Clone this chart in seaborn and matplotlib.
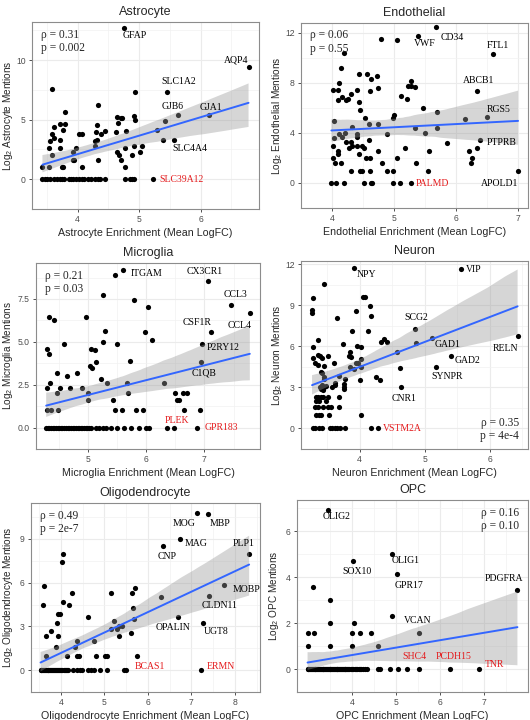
import numpy as np
import matplotlib
matplotlib.use('Agg')
import matplotlib.pyplot as plt
from matplotlib.collections import PolyCollection
from matplotlib.ticker import FormatStrFormatter
import seaborn as sns

# ---------------- data ----------------
# Astrocyte
astro_x = [3.59, 4.34, 3.80, 3.72, 3.80, 3.62, 3.76, 3.59, 3.61, 3.55, 3.71, 3.54, 3.71, 3.59,
           3.43, 3.53, 3.74, 3.77, 3.92, 3.97, 3.92, 3.95, 4.03, 4.07, 4.07, 4.32, 4.30, 4.31,
           4.29, 4.29, 4.33, 4.38, 4.44, 4.64, 4.70, 4.72, 4.66, 4.63, 4.78, 4.92, 4.94, 4.64,
           4.67, 4.71, 4.77, 4.77, 4.92, 4.88, 5.02, 5.04, 4.93, 5.43, 5.30, 5.39,
           3.43, 3.47, 3.51, 3.55, 3.61, 3.66, 3.71, 3.75, 3.78, 3.86, 3.90, 3.93, 3.97, 4.02,
           4.07, 4.11, 4.17, 4.22, 4.29, 4.33, 4.37, 4.45, 4.77, 4.85, 4.89, 4.92]
astro_y = [7.54, 6.22, 5.65, 4.60, 4.60, 4.39, 4.17, 3.81, 3.46, 3.17, 3.32, 2.58, 2.58, 2.00,
           1.00, 1.00, 1.00, 1.00, 2.32, 2.58, 1.58, 1.58, 3.81, 3.81, 1.00, 4.52, 4.00, 3.32,
           3.17, 2.81, 1.58, 3.81, 4.09, 5.21, 5.17, 5.13, 4.75, 4.00, 4.09, 5.29, 4.95, 2.32,
           2.00, 1.58, 2.58, 1.00, 2.81, 2.00, 2.32, 2.81, 7.34, 4.86, 4.17, 3.32,
           0, 0, 0, 0, 0, 0, 0, 0, 0, 0, 0, 0, 0, 0,
           0, 0, 0, 0, 0, 0, 0, 0, 0, 0, 0, 0]
astro_genes = ['GFAP', 'AQP4', 'SLC1A2', 'GJB6', 'GJA1', 'SLC4A4', 'SLC39A12']
astro_gene_x = [4.75, 6.78, 5.46, 5.64, 6.13, 5.57, 5.22]
astro_gene_y = [12.70, 9.38, 7.34, 5.42, 5.42, 3.32, 0]
astro_red = ['SLC39A12']

# Endothelial
endo_x = [4.79, 5.05, 4.20, 4.14, 4.11, 4.01, 4.10, 4.16, 4.09, 4.22, 4.26, 4.31, 4.40, 4.43,
          4.56, 4.63, 4.72, 4.74, 4.61, 4.44, 4.45, 4.53, 4.59, 4.74, 4.04, 4.03, 4.01, 4.10,
          4.10, 4.01, 4.05, 4.15, 4.16, 4.12, 4.21, 4.22, 4.32, 4.31, 4.33, 4.27, 4.31, 4.40,
          4.40, 4.40, 4.44, 4.48, 4.45, 4.48, 4.52, 4.55, 4.59, 4.61, 4.62, 4.74, 4.80, 4.89,
          4.88, 4.99, 5.00, 4.99, 5.05, 5.12, 5.21, 5.23, 5.27, 5.27, 5.33, 5.18, 5.33, 5.36,
          5.47, 5.50, 5.54, 5.56, 5.70, 5.70, 5.86, 6.14, 6.33, 6.21, 6.26, 6.24,
          3.99, 4.06, 4.20, 4.52, 4.63, 4.65, 4.99, 5.09]
endo_y = [11.50, 11.45, 10.40, 9.23, 8.00, 7.42, 7.47, 6.92, 6.63, 6.67, 6.72, 7.16, 7.42, 8.75,
          8.75, 8.36, 8.55, 7.60, 7.35, 6.46, 5.83, 5.18, 4.75, 4.75, 4.94, 3.58, 3.00, 2.58,
          2.32, 2.00, 1.58, 1.58, 3.70, 3.91, 4.00, 3.32, 4.52, 3.32, 3.00, 2.81, 1.00, 3.70,
          3.91, 3.00, 2.32, 3.00, 1.00, 1.00, 2.81, 2.00, 3.46, 2.00, 1.00, 2.58, 1.58, 3.91,
          1.00, 5.21, 5.43, 1.00, 2.00, 6.94, 6.75, 7.78, 7.78, 8.19, 7.71, 2.81, 4.39, 1.58,
          5.98, 3.97, 1.00, 2.58, 5.66, 4.39, 3.17, 5.11, 2.81, 2.58, 2.00, 1.58,
          0, 0, 0, 0, 0, 0, 0, 0]
endo_genes = ['CD34', 'VWF', 'FTL1', 'ABCB1', 'RGS5', 'PTPRB', 'APOLD1', 'PALMD']
endo_gene_x = [5.68, 5.38, 6.59, 6.33, 6.50, 6.38, 7.00, 5.27]
endo_gene_y = [12.46, 11.76, 10.30, 7.40, 5.25, 3.46, 1.00, 0]
endo_red = ['PALMD']

# Microglia
micro_x = [5.46, 5.25, 5.79, 6.03, 4.32, 4.42, 4.96, 5.98, 5.29, 6.10, 5.26, 5.49, 4.59, 4.30,
           4.32, 5.05, 5.12, 5.13, 5.03, 5.06, 5.72, 4.46, 4.81, 4.63, 4.35, 5.23, 5.32, 5.67,
           6.30, 4.30, 4.52, 4.69, 4.90, 4.47, 5.00, 5.00, 5.69, 5.43, 6.50, 6.52, 6.56, 6.63,
           6.70, 4.30, 4.37, 4.49, 5.46, 5.59, 5.83, 5.95, 6.65, 6.93,
           4.28, 4.31, 4.33, 4.36, 4.39, 4.42, 4.45, 4.48, 4.50, 4.53, 4.56, 4.59, 4.62, 4.65,
           4.68, 4.71, 4.74, 4.76, 4.79, 4.82, 4.85, 4.88, 4.90, 4.93, 4.96, 4.99, 5.02, 5.05,
           5.13, 5.19, 5.25, 5.30, 5.39, 5.50, 5.62, 5.73, 5.87, 5.99, 6.04, 6.47]
micro_y = [8.90, 7.74, 7.47, 7.02, 6.46, 6.28, 6.46, 5.57, 5.62, 5.08, 4.99, 4.90, 4.90, 4.58,
           4.32, 4.58, 4.52, 3.81, 3.58, 3.46, 3.91, 3.17, 3.17, 3.00, 2.58, 2.81, 2.58, 2.58,
           2.58, 2.32, 2.32, 2.32, 2.32, 2.00, 2.00, 1.58, 2.00, 1.58, 2.00, 1.58, 1.58, 2.00,
           2.00, 1.00, 1.00, 1.00, 1.00, 1.00, 1.00, 1.00, 1.00, 1.00,
           0, 0, 0, 0, 0, 0, 0, 0, 0, 0, 0, 0, 0, 0,
           0, 0, 0, 0, 0, 0, 0, 0, 0, 0, 0, 0, 0, 0,
           0, 0, 0, 0, 0, 0, 0, 0, 0, 0, 0, 0]
micro_genes = ['ITGAM', 'CX3CR1', 'CCL3', 'CCL4', 'CSF1R', 'P2RY12', 'C1QB', 'PLEK', 'GPR183']
micro_gene_x = [5.60, 7.06, 7.45, 7.78, 7.11, 6.96, 6.94, 6.36, 6.87]
micro_gene_y = [9.17, 8.53, 7.15, 6.66, 5.57, 4.90, 3.81, 0, 0]
micro_red = ['PLEK', 'GPR183']

# Neuron
neuro_x = [3.45, 3.28, 3.27, 3.27, 4.06, 4.09, 4.16, 4.18, 3.94, 3.65, 4.13, 3.88, 3.74, 3.36,
           3.29, 3.96, 4.03, 4.33, 4.37, 4.42, 4.87, 4.57, 4.62, 3.28, 3.36, 3.39, 3.43, 3.52,
           3.31, 3.36, 3.45, 3.61, 3.85, 3.84, 3.87, 4.03, 3.95, 3.98, 4.03, 3.92, 3.85, 3.77,
           3.69, 3.41, 3.43, 3.46, 3.46, 3.39, 3.42, 3.44, 3.41, 3.46, 3.48, 3.58, 3.62, 3.63,
           3.76, 3.76, 3.76, 3.69, 4.00, 4.26, 4.31,
           3.33, 3.36, 3.40, 3.44, 3.51, 3.33, 3.38, 3.49, 3.31, 3.36, 3.44, 3.51, 3.56, 3.69,
           3.33, 3.38, 3.41, 3.53, 4.02,
           3.28, 3.32, 3.37, 3.42, 3.54, 3.58, 3.62, 3.65, 3.70, 3.77, 4.18]
neuro_y = [10.56, 9.54, 8.64, 8.46, 9.59, 9.59, 8.91, 8.23, 8.59, 8.08, 7.11, 7.11, 6.16, 6.43,
           5.98, 6.05, 5.98, 6.34, 6.52, 6.34, 6.25, 5.57, 4.44, 5.14, 5.37, 5.26, 5.14, 5.30,
           4.76, 4.62, 4.58, 4.74, 5.59, 5.26, 5.21, 5.10, 4.80, 4.76, 4.47, 4.31, 4.47, 3.63,
           3.86, 4.13, 4.06, 3.63, 3.79, 3.00, 3.17, 2.81, 2.91, 3.00, 3.10, 3.00, 3.17, 3.32,
           3.05, 2.89, 3.23, 2.32, 3.56, 3.72, 3.50,
           2.32, 2.32, 2.32, 2.32, 2.32, 2.00, 2.00, 2.00, 1.58, 1.58, 1.58, 1.58, 1.58, 1.58,
           1.00, 1.00, 1.00, 1.00, 1.00,
           0, 0, 0, 0, 0, 0, 0, 0, 0, 0, 0]
neuro_genes = ['NPY', 'VIP', 'SCG2', 'GAD1', 'RELN', 'GAD2', 'SYNPR', 'CNR1', 'VSTM2A']
neuro_gene_x = [3.92, 5.56, 4.85, 5.12, 6.43, 5.41, 5.17, 4.64, 4.28]
neuro_gene_y = [11.68, 11.60, 7.29, 6.61, 6.72, 5.32, 4.52, 3.00, 0]
neuro_red = ['VSTM2A']

# Oligodendrocyte
oligo_x = [4.05, 4.03, 3.61, 3.59, 4.05, 4.18, 4.26, 3.92, 3.97, 3.90, 3.76, 3.66, 3.93, 3.88,
           3.65, 4.13, 4.32, 4.36, 4.36, 4.42, 4.63, 4.76, 4.80, 5.02, 5.05, 5.15, 5.21, 5.16,
           5.28, 5.34, 5.40, 5.34, 5.63, 5.70, 5.65, 5.68, 5.62, 5.75, 6.31,
           3.53, 3.55, 3.57, 3.59, 3.61, 3.63, 3.65, 3.67, 3.69, 3.71, 3.73, 3.75, 3.77, 3.79,
           3.81, 3.83, 3.86, 3.88, 3.91, 3.93, 3.95, 3.98, 4.01, 4.03, 4.06, 4.09, 4.11, 4.14,
           4.16, 4.28, 4.36, 4.44, 4.49, 4.63, 4.68, 4.75, 4.90, 5.07, 5.44]
oligo_y = [7.98, 7.43, 5.80, 4.50, 4.67, 4.50, 5.26, 3.85, 3.85, 3.24, 2.65, 2.37, 2.37, 1.58,
           1.00, 1.00, 1.58, 2.00, 1.00, 1.00, 3.63, 2.00, 1.00, 1.00, 1.00, 5.26, 3.37, 2.81,
           2.81, 3.00, 3.00, 2.32, 5.26, 5.63, 4.28, 3.48, 2.58, 1.00, 5.04,
           0, 0, 0, 0, 0, 0, 0, 0, 0, 0, 0, 0, 0, 0,
           0, 0, 0, 0, 0, 0, 0, 0, 0, 0, 0, 0, 0, 0,
           0, 0, 0, 0, 0, 0, 0, 0, 0, 0, 0]
oligo_genes = ['MOG', 'MBP', 'MAG', 'CNP', 'PLP1', 'MOBP', 'CLDN11', 'OPALIN', 'UGT8',
               'BCAS1', 'ERMN']
oligo_gene_x = [7.13, 7.38, 6.73, 6.35, 8.33, 7.75, 7.41, 6.69, 7.27, 5.50, 7.22]
oligo_gene_y = [10.80, 10.70, 8.96, 8.52, 7.93, 5.85, 5.11, 3.63, 3.20, 0, 0]
oligo_red = ['BCAS1', 'ERMN']

# OPC
opc_x = [3.11, 3.50, 3.50, 3.50, 2.99, 3.12, 2.99, 3.98, 4.17, 4.43, 4.04, 4.00, 4.58, 4.91,
         2.98, 3.00, 3.02, 3.04, 3.06, 3.08, 3.10, 3.12, 3.14, 3.16, 3.18, 3.20, 3.22, 3.24,
         3.26, 3.28, 3.30, 3.32, 3.34, 3.36, 3.38, 3.40, 3.42, 3.44, 3.46, 3.48, 3.50, 3.52,
         3.54, 3.56, 3.58, 3.60, 3.62, 3.64, 3.66, 3.68, 3.70, 3.72, 3.74, 3.76, 3.78, 3.80,
         3.82, 3.84, 3.86, 3.88, 3.90, 3.93, 3.96, 3.99, 4.02, 4.05, 4.08, 4.11, 4.14, 4.17,
         4.20, 4.24, 4.28, 4.32, 4.58, 4.62, 4.86, 5.04, 5.52]
opc_y = [3.59, 3.00, 2.00, 1.00, 1.59, 1.59, 1.00, 1.59, 1.59, 1.59, 2.00, 1.00, 1.00, 2.32,
         0, 0, 0, 0, 0, 0, 0, 0, 0, 0, 0, 0, 0, 0,
         0, 0, 0, 0, 0, 0, 0, 0, 0, 0, 0, 0, 0, 0,
         0, 0, 0, 0, 0, 0, 0, 0, 0, 0, 0, 0, 0, 0,
         0, 0, 0, 0, 0, 0, 0, 0, 0, 0, 0, 0, 0, 0,
         0, 0, 0, 0, 0, 0, 0, 0, 0]
opc_genes = ['OLIG2', 'OLIG1', 'SOX10', 'GPR17', 'PDGFRA', 'VCAN', 'SHC4', 'PCDH15', 'TNR']
opc_gene_x = [3.45, 4.90, 4.02, 5.02, 7.75, 5.51, 5.25, 6.21, 6.88]
opc_gene_y = [6.94, 5.03, 4.69, 4.15, 3.43, 1.59, 0, 0, 0]
opc_red = ['SHC4', 'PCDH15', 'TNR']

stats_text = {
    'Astrocyte': 'ρ = 0.31\np = 0.002',
    'Endothelial': 'ρ = 0.06\np = 0.55',
    'Microglia': 'ρ = 0.21\np = 0.03',
    'Neuron': 'ρ = 0.35\np = 4e-4',
    'Oligodendrocyte': 'ρ = 0.49\np = 2e-7',
    'OPC': 'ρ = 0.16\nρ = 0.10',
}

# label offsets in points (text centre relative to its point)
label_offsets = {
    'GFAP': (8, -5.5), 'AQP4': (-9, 5.5), 'SLC1A2': (8.5, 7.7), 'GJB6': (-4, 5.8),
    'GJA1': (2, 5.3), 'SLC4A4': (11, -6.2), 'SLC39A12': (20.5, 0),
    'CD34': (11.5, -7.2), 'VWF': (5.3, -5.5), 'FTL1': (4, 6.5), 'ABCB1': (1.2, 7.2),
    'RGS5': (8.4, 6), 'PTPRB': (15.6, -1.9), 'APOLD1': (-13, -9.6), 'PALMD': (15.8, 0),
    'ITGAM': (16.8, -2.4), 'CX3CR1': (-2.4, 7.4), 'CCL3': (3.6, 7.7), 'CCL4': (-7.2, -8.6),
    'CSF1R': (-9.6, 6.7), 'P2RY12': (15.1, -2.9), 'C1QB': (2.4, -7.7), 'PLEK': (6.7, 5),
    'GPR183': (17.3, 0),
    'NPY': (8.9, -4.3), 'VIP': (9.1, 0), 'SCG2': (1.2, 7.9), 'GAD1': (11, -4.8),
    'RELN': (-8.4, -8.4), 'GAD2': (12, -3.8), 'SYNPR': (8.4, -7.2), 'CNR1': (1.9, -7.7),
    'VSTM2A': (18, 0),
    'MOG': (-9.6, -7.7), 'MBP': (8.9, -6.5), 'MAG': (11.5, -3.1), 'CNP': (2.9, -7.7),
    'PLP1': (-4.3, 7.7), 'MOBP': (16, -3.6), 'CLDN11': (7.7, -7.4), 'OPALIN': (-3.6, -7.7),
    'UGT8': (9.6, -6), 'BCAS1': (17.3, 2.9), 'ERMN': (14.2, 2.9),
    'OLIG2': (6, -5), 'OLIG1': (9.6, -5), 'SOX10': (2.4, -7.4), 'GPR17': (8.1, -8.4),
    'PDGFRA': (-9.6, 8.4), 'VCAN': (-1.2, 8.4), 'SHC4': (5.3, 9.4), 'PCDH15': (3.1, 9.4),
    'TNR': (11.3, 3.6),
}

# ---------------- style ----------------
sns.set_style('white')
plt.rcParams['font.family'] = ['Liberation Sans', 'DejaVu Sans']
plt.rcParams['mathtext.fontset'] = 'custom'
plt.rcParams['mathtext.rm'] = 'Liberation Sans'
plt.rcParams['mathtext.it'] = 'Liberation Sans:italic'
SERIF = ['Liberation Serif', 'DejaVu Serif']
RED = '#e41a1c'
W, H = 530, 720

fig = plt.figure(figsize=(5.3, 7.2), dpi=100)


def panel(box, ylab_x, name, x, y, genes, gx, gy, red, xlim, ylim, xmaj, ymaj, stats_loc,
          yfmt='%g'):
    l, t, r, b = box
    ax = fig.add_axes([l / W, 1 - b / H, (r - l) / W, (b - t) / H])
    xa = np.r_[x, gx]
    ya = np.r_[y, gy]
    sns.regplot(x=xa, y=ya, ax=ax, ci=95, n_boot=1000, seed=3, color='black',
                scatter_kws={'s': 14, 'linewidths': 0, 'color': 'black', 'alpha': 1},
                line_kws={'color': '#3366FF', 'lw': 1.4})
    for c in ax.collections:
        if isinstance(c, PolyCollection):
            c.set_alpha(0.4)
            c.set_facecolor('#999999')
            c.set_edgecolor('none')
    for g, px, py in zip(genes, gx, gy):
        ax.annotate(g, (px, py), xytext=label_offsets[g], textcoords='offset points',
                    ha='center', va='center', fontsize=7, family=SERIF,
                    color=RED if g in red else 'black')
    if stats_loc == 'tl':
        ax.text(0.04, 0.965, stats_text[name], transform=ax.transAxes, ha='left', va='top',
                fontsize=8.3, family=SERIF, linespacing=1.15)
    elif stats_loc == 'tr':
        ax.text(0.96, 0.965, stats_text[name], transform=ax.transAxes, ha='right', va='top',
                fontsize=8.3, family=SERIF, linespacing=1.15)
    else:
        ax.text(0.96, 0.035, stats_text[name], transform=ax.transAxes, ha='right', va='bottom',
                fontsize=8.3, family=SERIF, linespacing=1.15)
    ax.set_xlim(*xlim)
    ax.set_ylim(*ylim)
    ax.set_xticks(xmaj)
    ax.set_yticks(ymaj)
    dx = xmaj[1] - xmaj[0]
    dy = ymaj[1] - ymaj[0]
    ax.set_xticks(np.arange(xmaj[0] - dx / 2, xlim[1], dx), minor=True)
    ax.set_yticks(np.arange(ymaj[0] - dy / 2, ylim[1], dy), minor=True)
    ax.yaxis.set_major_formatter(FormatStrFormatter(yfmt))
    ax.grid(which='major', color='#EBEBEB', lw=0.8)
    ax.grid(which='minor', color='#F2F2F2', lw=0.5)
    ax.set_axisbelow(True)
    ax.tick_params(which='major', length=2.5, width=0.6, color='#333333', pad=2,
                   labelsize=6.2, labelcolor='#4D4D4D', bottom=True, left=True)
    ax.tick_params(which='minor', length=0)
    for s in ax.spines.values():
        s.set_color('#8C8C8C')
        s.set_linewidth(0.8)
    ax.set_title(name, fontsize=9, pad=5)
    ax.set_xlabel(f'{name} Enrichment (Mean LogFC)', fontsize=7.7, labelpad=3)
    ax.set_ylabel(f'Log$_2$ {name} Mentions', fontsize=7.2, va='center')
    ax.yaxis.set_label_coords((ylab_x - l) / (r - l), 0.5)
    return ax


panel((32, 22, 259, 209), 8, 'Astrocyte', astro_x, astro_y, astro_genes, astro_gene_x,
      astro_gene_y, astro_red, (3.26, 6.95), (-0.7, 13.2), [4, 5, 6], [0, 5, 10], 'tl')
panel((301, 23, 528, 208), 277, 'Endothelial', endo_x, endo_y, endo_genes, endo_gene_x,
      endo_gene_y, endo_red, (3.84, 7.16), (-0.72, 12.8), [4, 5, 6, 7], [0, 4, 8, 12], 'tl')
panel((36, 263, 260, 449), 8, 'Microglia', micro_x, micro_y, micro_genes, micro_gene_x,
      micro_gene_y, micro_red, (4.105, 7.955), (-0.43, 9.6), [5, 6, 7], [0, 2.5, 5, 7.5], 'tl',
      yfmt='%.1f')
panel((301, 261, 528, 449), 277, 'Neuron', neuro_x, neuro_y, neuro_genes, neuro_gene_x,
      neuro_gene_y, neuro_red, (3.10, 6.59), (-0.54, 12.22), [4, 5, 6], [0, 3, 6, 9, 12], 'br')
panel((31, 503, 260, 692), 8, 'Oligodendrocyte', oligo_x, oligo_y, oligo_genes, oligo_gene_x,
      oligo_gene_y, oligo_red, (3.31, 8.58), (-0.83, 11.46), [4, 5, 6, 7, 8], [0, 3, 6, 9], 'tl')
panel((297, 500, 528, 692), 274, 'OPC', opc_x, opc_y, opc_genes, opc_gene_x,
      opc_gene_y, opc_red, (2.74, 7.99), (-0.45, 7.37), [4, 5, 6, 7], [0, 2, 4, 6], 'tr')

fig.savefig('out.png', dpi=100)
